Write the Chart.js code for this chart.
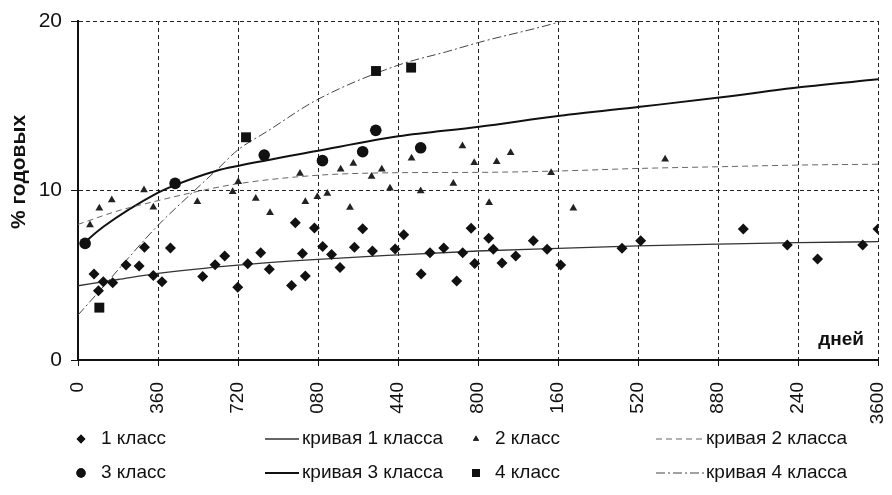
<!DOCTYPE html>
<html>
<head>
<meta charset="utf-8">
<script src="https://cdn.jsdelivr.net/npm/chart.js@4.4.1/dist/chart.umd.min.js"></script>
<style>
  html, body { margin: 0; padding: 0; background: #fff; }
  canvas { display: block; }
</style>
</head>
<body>
<canvas id="chart" width="892" height="495"></canvas>
<script>
// tick labels as printed (the leading "1"/"2"/"3" is cut off in the picture)
var xTickLabels = ['0', '360', '720', '080', '440', '800', '160', '520', '880', '240', '3600'];
var yTicks = [0, 10, 20];

// 1 класс
var class1X = [72, 92, 114, 156, 216, 275, 299, 339, 378, 416, 561, 617, 660, 719, 764, 822, 861, 961, 978, 1010,
  1023, 1064, 1101, 1141, 1179, 1244, 1281, 1325, 1427, 1466, 1544, 1584, 1646, 1704, 1731, 1769, 1785, 1848, 1869,
  1908, 1970, 2049, 2111, 2172, 2448, 2532, 2994, 3192, 3328, 3531, 3600];
var class1Y = [5.07, 4.09, 4.62, 4.56, 5.6, 5.55, 6.65, 4.98, 4.62, 6.61, 4.92, 5.62, 6.14, 4.29, 5.68, 6.33, 5.35, 4.4, 8.1, 6.29,
  4.96, 7.79, 6.69, 6.23, 5.45, 6.65, 7.75, 6.43, 6.55, 7.39, 5.07, 6.33, 6.61, 4.66, 6.33, 7.77, 5.7, 7.18, 6.53,
  5.72, 6.14, 7.04, 6.53, 5.6, 6.59, 7.04, 7.73, 6.78, 5.96, 6.78, 7.73];

// 2 класс
var class2X = [54, 96, 152, 297, 339, 537, 696, 721, 800, 864, 999, 1023, 1077, 1122, 1182, 1224, 1239, 1321, 1367, 1404,
  1501, 1542, 1689, 1730, 1783, 1850, 1884, 1947, 2129, 2229, 2642];
var class2Y = [7.96, 8.95, 9.44, 10.03, 9.01, 9.34, 9.93, 10.52, 9.53, 8.69, 11.01, 9.34, 9.63, 9.83, 11.25, 9.0, 11.6, 10.82, 11.25, 10.13,
  11.9, 9.97, 10.42, 12.63, 11.64, 9.28, 11.7, 12.23, 11.05, 8.95, 11.84];

// 3 класс
var class3X = [32, 437, 838, 1100, 1281, 1340, 1542];
var class3Y = [6.88, 10.42, 12.09, 11.76, 12.29, 13.55, 12.52];

// 4 класс
var class4X = [96, 756, 1341, 1499];
var class4Y = [3.09, 13.14, 17.05, 17.25];

// fitted curves
var curve1X = [0, 180, 360, 720, 1080, 1440, 1800, 2160, 2520, 2880, 3240, 3600];
var curve1Y = [4.38, 4.75, 5.11, 5.6, 5.94, 6.2, 6.43, 6.59, 6.73, 6.84, 6.92, 6.98];
var curve2X = [0, 180, 360, 540, 720, 1080, 1440, 1800, 2160, 2520, 2880, 3240, 3600];
var curve2Y = [8.0, 8.8, 9.4, 9.95, 10.4, 10.9, 11.05, 11.07, 11.15, 11.3, 11.4, 11.5, 11.55];
var curve3X = [24, 114, 354, 437, 624, 719, 1074, 1442, 1805, 2169, 2529, 2886, 3246, 3600];
var curve3Y = [6.88, 7.86, 9.83, 10.32, 11.17, 11.45, 12.33, 13.2, 13.76, 14.41, 14.94, 15.48, 16.09, 16.56];
var curve4X = [0, 114, 354, 519, 631, 719, 849, 1074, 1442, 1659, 1805, 2169, 2200];
var curve4Y = [2.65, 4.33, 7.86, 9.93, 11.3, 12.39, 13.47, 15.34, 17.4, 18.19, 18.74, 19.96, 20.1];

function pts(xs, ys) {
  return xs.map(function(x, i) { return { x: x, y: ys[i] }; });
}

var FONT = "'Liberation Sans', Arial, sans-serif";

function markerSet(label, xs, ys, style, radius, color) {
  return {
    type: 'scatter', label: label, data: pts(xs, ys), order: 0,
    pointStyle: style, pointRadius: radius, pointHoverRadius: radius,
    backgroundColor: color, borderColor: color, borderWidth: 0
  };
}

function curveSet(label, xs, ys, width, color, dash) {
  return {
    type: 'line', label: label, data: pts(xs, ys), order: 1,
    borderColor: color, borderWidth: width, borderDash: dash,
    pointRadius: 0, fill: false, cubicInterpolationMode: 'monotone'
  };
}

// legend in two rows of four, plus the two loose captions
var captionsPlugin = {
  id: 'captions',
  afterDraw: function(chart) {
    var ctx = chart.ctx;
    var area = chart.chartArea;
    ctx.save();
    ctx.fillStyle = '#111';
    ctx.textBaseline = 'middle';

    ctx.font = 'bold 19px ' + FONT;
    ctx.textAlign = 'right';
    ctx.fillText('дней', area.right - 14, area.bottom - 20);

    ctx.translate(19, 172);
    ctx.rotate(-Math.PI / 2);
    ctx.font = 'bold 21px ' + FONT;
    ctx.textAlign = 'center';
    ctx.fillText('% годовых', 0, 0);
    ctx.restore();

    var cols = [{ mark: 81, text: 101 }, { mark: 282, text: 302 }, { mark: 476, text: 495 }, { mark: 680, text: 706 }];
    var rows = [439, 473];
    ctx.save();
    ctx.font = '19px ' + FONT;
    ctx.textBaseline = 'middle';
    chart.data.datasets.forEach(function(ds, i) {
      var c = cols[i % 4], y = rows[Math.floor(i / 4)];
      ctx.fillStyle = ds.borderColor;
      ctx.strokeStyle = ds.borderColor;
      if (ds.type === 'line') {
        var half = i % 4 === 1 ? 17 : 24;
        ctx.lineWidth = ds.borderWidth;
        ctx.setLineDash(ds.borderDash || []);
        ctx.beginPath();
        ctx.moveTo(c.mark - half, y);
        ctx.lineTo(c.mark + half, y);
        ctx.stroke();
        ctx.setLineDash([]);
      } else {
        Chart.helpers.drawPoint(ctx, {
          pointStyle: ds.pointStyle, radius: Math.max(ds.pointRadius * 0.8, 3.5), borderWidth: 0
        }, c.mark, y);
        ctx.fill();
      }
      ctx.fillStyle = '#111';
      ctx.fillText(ds.label, c.text, y);
    });
    ctx.restore();
  }
};

new Chart(document.getElementById('chart').getContext('2d'), {
  data: {
    datasets: [
      markerSet('1 класс', class1X, class1Y, 'rectRot', 5.5, '#111'),
      curveSet('кривая 1 класса', curve1X, curve1Y, 1.3, '#333', []),
      markerSet('2 класс', class2X, class2Y, 'triangle', 4.5, '#222'),
      curveSet('кривая 2 класса', curve2X, curve2Y, 1, '#666', [6, 4]),
      markerSet('3 класс', class3X, class3Y, 'circle', 5.8, '#111'),
      curveSet('кривая 3 класса', curve3X, curve3Y, 2, '#111', []),
      markerSet('4 класс', class4X, class4Y, 'rect', 7, '#111'),
      curveSet('кривая 4 класса', curve4X, curve4Y, 1, '#444', [9, 3, 2, 3])
    ]
  },
  options: {
    responsive: false,
    animation: false,
    layout: { padding: { left: 0, right: 14, top: 21, bottom: 62 } },
    plugins: {
      legend: { display: false },
      tooltip: { enabled: false }
    },
    scales: {
      x: {
        type: 'linear', min: 0, max: 3600,
        afterFit: function(s) { s.height = 73; s.paddingLeft = 0; s.paddingRight = 0; },
        afterBuildTicks: function(s) {
          s.ticks = xTickLabels.map(function(t, i) { return { value: i * 360 }; });
        },
        ticks: {
          autoSkip: false, maxRotation: 90, minRotation: 90, padding: 16,
          color: '#111', font: { family: FONT, size: 19 },
          callback: function(v, i) { return xTickLabels[i]; }
        },
        grid: {
          color: '#222', lineWidth: 1, borderDash: [4, 3],
          tickColor: '#111', tickLength: 6, tickBorderDash: []
        },
        border: { display: true, color: '#111', width: 2, dash: [4, 3] }
      },
      y: {
        type: 'linear', min: 0, max: 20,
        afterFit: function(s) { s.width = 78; s.paddingTop = 0; s.paddingBottom = 0; },
        afterBuildTicks: function(s) {
          s.ticks = yTicks.map(function(v) { return { value: v }; });
        },
        ticks: {
          padding: 9, color: '#111', font: { family: FONT, size: 21 }
        },
        grid: {
          color: '#222', lineWidth: 1, borderDash: [4, 3],
          tickColor: '#111', tickLength: 7, tickBorderDash: []
        },
        border: { display: true, color: '#111', width: 2, dash: [4, 3] }
      }
    }
  },
  plugins: [captionsPlugin]
});
</script>
</body>
</html>
